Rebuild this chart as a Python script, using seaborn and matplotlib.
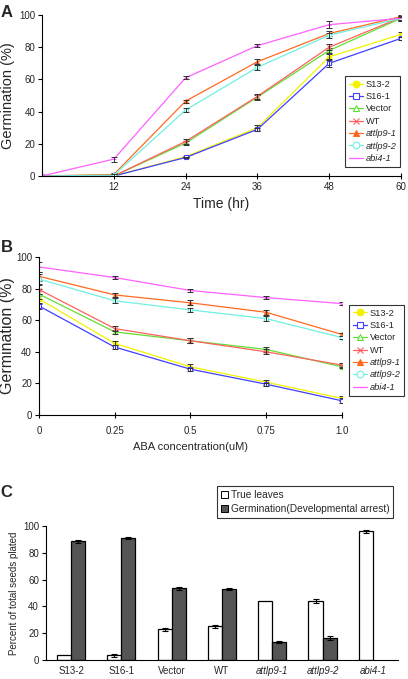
import numpy as np
import pandas as pd
import matplotlib
matplotlib.use("Agg")
import matplotlib.pyplot as plt
import seaborn as sns
from matplotlib.patches import Patch

# Series names and styles
LINES = ["S13-2", "S16-1", "Vector", "WT", "attlp9-1", "attlp9-2", "abi4-1"]
ITALIC = {"attlp9-1", "attlp9-2", "abi4-1"}
COLORS = ["#f2f200", "#4040ff", "#5fe030", "#ff6060", "#ff6a20", "#70f0e0", "#ff60ff"]
MARKERS = ["o", "s", "^", "x", "^", "o", "_"]
OPEN = [False, True, True, False, False, True, False]

# Panel A: germination over time
time_hr = [0, 12, 24, 36, 48, 60]
germ_time = {
    "S13-2": [0, 0, 12, 30, 74, 88],
    "S16-1": [0, 0, 11.5, 29, 70, 85.5],
    "Vector": [0, 0, 20.5, 49, 78, 98],
    "WT": [0, 0, 21.5, 49.5, 80, 98.5],
    "attlp9-1": [0, 1, 46.5, 71, 88.5, 99],
    "attlp9-2": [0, 0.5, 41, 67.5, 87.5, 98],
    "abi4-1": [0, 10.5, 61, 81, 94, 98],
}
err_time = {
    "S13-2": [0, 0, 0.5, 1.5, 1.5, 1.5],
    "S16-1": [0, 0, 0.5, 1, 2, 1],
    "Vector": [0, 0, 1.5, 1.5, 1.5, 1.5],
    "WT": [0, 0, 1.5, 1.5, 2, 1.5],
    "attlp9-1": [0, 1, 1, 1.5, 1.5, 1.5],
    "attlp9-2": [0, 0.5, 1.5, 1.5, 1.5, 1.5],
    "abi4-1": [0, 1.5, 1, 1, 2, 1],
}

# Panel B: germination vs ABA
aba = [0, 0.25, 0.5, 0.75, 1.0]
aba_labels = ["0", "0.25", "0.5", "0.75", "1.0"]
germ_aba = {
    "S13-2": [73.5, 45.3, 30.5, 20.8, 10.5],
    "S16-1": [69, 43, 29, 19.5, 9],
    "Vector": [76.5, 52.6, 47, 41.5, 30.5],
    "WT": [79.4, 54.7, 47, 40, 31.6],
    "attlp9-1": [87.8, 76, 71, 65, 51],
    "attlp9-2": [86, 72.3, 66.5, 61, 49],
    "abi4-1": [93.7, 87, 78.8, 74.3, 70.5],
}
err_aba = {
    "S13-2": [3, 1.5, 1.5, 1.5, 1.5],
    "S16-1": [2, 1, 1, 1, 1.5],
    "Vector": [3, 1.5, 1.5, 1.5, 1],
    "WT": [3, 1.5, 1.5, 1.5, 1],
    "attlp9-1": [3, 1.5, 1.5, 1.5, 1],
    "attlp9-2": [3, 1.5, 1.5, 1.5, 1],
    "abi4-1": [3, 1, 1, 1, 1],
}

# Panel C: seedling phenotypes
genotypes = ["S13-2", "S16-1", "Vector", "WT", "attlp9-1", "attlp9-2", "abi4-1"]
true_leaves = [4, 3.5, 23, 25, 44, 44, 96]
true_leaves_err = [0, 1, 1, 1, 0, 1.5, 1]
arrest = [88.5, 91, 53.5, 53, 13.5, 16.5, np.nan]
arrest_err = [1, 1, 1, 1, 1, 1.5, 0]
bar_groups = ["True leaves", "Germination(Developmental arrest)"]

sns.set_theme(style="ticks")
plt.rcParams["font.family"] = ["Liberation Sans", "DejaVu Sans"]

fig = plt.figure(figsize=(4.08, 6.79), dpi=100)
axA = fig.add_axes([0.103, 0.7408, 0.880, 0.2371])
axB = fig.add_axes([0.0956, 0.3888, 0.7424, 0.2327])
axC = fig.add_axes([0.1127, 0.028, 0.8628, 0.1973])


def draw_lines(ax, xs, data, errs):
    for name, col, mk, op in zip(LINES, COLORS, MARKERS, OPEN):
        sns.lineplot(x=xs, y=data[name], ax=ax, color=col, marker=mk,
                     markersize=3, linewidth=0.9,
                     markerfacecolor="white" if op else col,
                     markeredgecolor=col, markeredgewidth=0.8, label=name)
        ax.errorbar(xs, data[name], yerr=errs[name], fmt="none",
                    ecolor="#333333", elinewidth=0.7, capsize=2, capthick=0.7)


def line_legend(ax, anchor):
    leg = ax.legend(loc="upper left", bbox_to_anchor=anchor,
                    bbox_transform=fig.transFigure, fontsize=6.7,
                    frameon=True, fancybox=False, edgecolor="black",
                    markerscale=1.6, handlelength=1.5, handletextpad=0.3,
                    labelspacing=0.36, borderpad=0.4, borderaxespad=0)
    leg.get_frame().set_linewidth(0.8)
    for t in leg.get_texts():
        if t.get_text() in ITALIC:
            t.set_style("italic")


def style_axes(ax):
    for s in ["top", "right"]:
        ax.spines[s].set_visible(False)
    for s in ["left", "bottom"]:
        ax.spines[s].set_color("black")
        ax.spines[s].set_linewidth(0.8)
    ax.tick_params(labelsize=7, length=3, width=0.8, color="black", pad=2)


# Panel A
draw_lines(axA, time_hr, germ_time, err_time)
style_axes(axA)
axA.set_xlim(0, 60)
axA.set_ylim(0, 100)
axA.set_xticks([12, 24, 36, 48, 60])
axA.set_yticks([0, 20, 40, 60, 80, 100])
axA.tick_params(axis="x", direction="inout", length=4)
axA.set_xlabel("Time (hr)", fontsize=10, labelpad=4)
axA.set_ylabel("Germination (%)", fontsize=10.5)
axA.yaxis.set_label_coords(-0.075, 0.5)
line_legend(axA, (0.846, 0.888))

# Panel B
draw_lines(axB, aba, germ_aba, err_aba)
style_axes(axB)
axB.set_xlim(0, 1.0)
axB.set_ylim(0, 100)
axB.set_xticks(aba)
axB.set_xticklabels(aba_labels)
axB.set_yticks([0, 20, 40, 60, 80, 100])
axB.tick_params(axis="x", direction="inout", length=4, pad=6)
axB.set_xlabel("ABA concentration(uM)", fontsize=8, labelpad=4)
axB.set_ylabel("Germination (%)", fontsize=11.5)
axB.yaxis.set_label_coords(-0.078, 0.5)
line_legend(axB, (0.856, 0.5508))

# Panel C
df = pd.DataFrame({
    "genotype": genotypes * 2,
    "group": [bar_groups[0]] * 7 + [bar_groups[1]] * 7,
    "value": true_leaves + arrest,
})
sns.barplot(data=df, x="genotype", y="value", hue="group", ax=axC,
            palette=["white", "#555555"], edgecolor="black", linewidth=0.9,
            width=0.56, errorbar=None, legend=False)
all_err = true_leaves_err + arrest_err
for patch, val, e in zip(axC.patches, true_leaves + arrest, all_err):
    if np.isnan(val) or e == 0:
        continue
    axC.errorbar(patch.get_x() + patch.get_width() / 2, val, yerr=e,
                 fmt="none", ecolor="black", elinewidth=0.8, capsize=2, capthick=0.8)
style_axes(axC)
axC.set_ylim(0, 100)
axC.set_xlim(-0.5, 6.5)
axC.set_yticks([0, 20, 40, 60, 80, 100])
axC.set_xlabel("")
axC.set_ylabel("Percent of total seeds plated", fontsize=7, labelpad=3)
axC.tick_params(axis="x", length=0, pad=4)
for t in axC.get_xticklabels():
    if t.get_text() in ITALIC:
        t.set_style("italic")
handles = [Patch(facecolor="white", edgecolor="black", linewidth=0.7),
           Patch(facecolor="#555555", edgecolor="black", linewidth=0.7)]
legC = axC.legend(handles, bar_groups, loc="upper left", bbox_to_anchor=(0.532, 0.284),
                  bbox_transform=fig.transFigure, fontsize=7.3, frameon=True,
                  fancybox=False, edgecolor="black", handlelength=0.7,
                  handleheight=0.7, handletextpad=0.3, labelspacing=0.45,
                  borderpad=0.35, borderaxespad=0)
legC.get_frame().set_linewidth(0.8)

# Panel letters
for letter, y in [("A", 0.992), ("B", 0.647), ("C", 0.285)]:
    fig.text(0.002, y, letter, fontsize=12, fontweight="bold", va="top")

fig.savefig("out.png", dpi=100)
